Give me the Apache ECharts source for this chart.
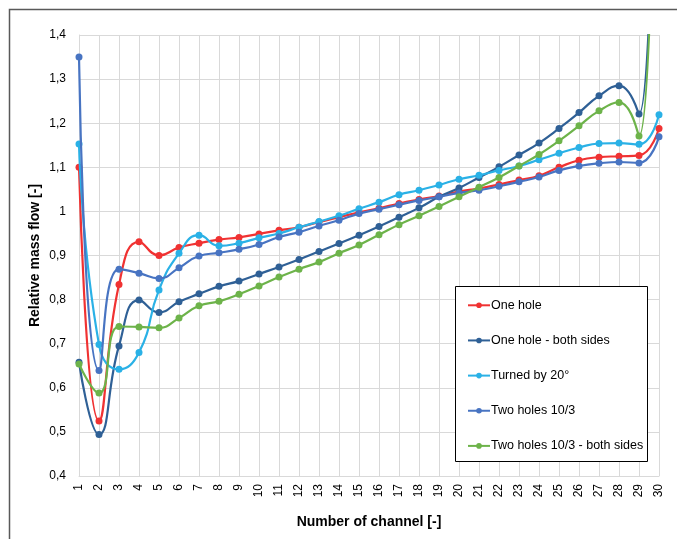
<!DOCTYPE html>
<html>
<head>
<meta charset="utf-8">
<script src="https://cdn.jsdelivr.net/npm/echarts@6/dist/echarts.min.js"></script>
<style>
html,body{margin:0;padding:0;background:#fff;}
#chart{width:677px;height:539px;}
</style>
</head>
<body>
<div id="chart"></div>
<script>
const channels = Array.from({length: 30}, (_, i) => String(i + 1));
const yTickLabels = ['0,4','0,5','0,6','0,7','0,8','0,9','1','1,1','1,2','1,3','1,4'];

const oneHole = [1.100,0.525,0.834,0.931,0.900,0.918,0.928,0.936,0.941,0.949,0.957,0.964,0.976,0.987,0.998,1.007,1.018,1.027,1.035,1.045,1.052,1.061,1.071,1.081,1.100,1.116,1.123,1.125,1.127,1.188];
const oneHoleBothSides = [0.658,0.494,0.695,0.799,0.771,0.795,0.813,0.830,0.842,0.858,0.874,0.891,0.909,0.927,0.946,0.966,0.987,1.008,1.033,1.053,1.077,1.101,1.128,1.155,1.188,1.224,1.262,1.285,1.221,3.0];
const turnedBy20 = [1.153,0.698,0.642,0.680,0.822,0.905,0.946,0.922,0.928,0.940,0.950,0.964,0.977,0.990,1.006,1.021,1.038,1.048,1.060,1.073,1.082,1.093,1.103,1.117,1.132,1.145,1.154,1.155,1.152,1.219];
const twoHoles = [1.350,0.639,0.869,0.860,0.848,0.872,0.899,0.906,0.914,0.925,0.942,0.953,0.967,0.980,0.995,1.005,1.015,1.025,1.033,1.042,1.048,1.057,1.067,1.078,1.093,1.103,1.109,1.112,1.110,1.169];
const twoHolesBothSides = [0.654,0.588,0.739,0.738,0.736,0.758,0.786,0.796,0.812,0.831,0.851,0.869,0.885,0.905,0.924,0.947,0.970,0.990,1.011,1.033,1.055,1.077,1.103,1.129,1.160,1.194,1.228,1.247,1.171,3.0];

const seriesNames = ['One hole','One hole - both sides','Turned by 20°','Two holes 10/3','Two holes 10/3 - both sides'];
const seriesData = [oneHole, oneHoleBothSides, turnedBy20, twoHoles, twoHolesBothSides];
const seriesColors = ['#F03232','#2F6096','#2AB1E6','#4874C2','#6DB34A'];

const FONT = "'Liberation Sans',Arial,sans-serif";

const chart = echarts.init(document.getElementById('chart'), null, {renderer: 'canvas'});
const option = {
  backgroundColor: '#ffffff',
  animation: false,
  textStyle: {fontFamily: FONT},
  grid: {left: 79, right: 18, top: 35, bottom: 63, containLabel: false},
  graphic: [
    {type: 'rect', shape: {x: 9.5, y: 9.5, width: 700, height: 600}, style: {fill: null, stroke: '#595959', lineWidth: 1.5}, silent: true, z: 0},
    {type: 'rect', shape: {x: 455.5, y: 286.5, width: 192, height: 175}, style: {fill: '#ffffff', stroke: '#000000', lineWidth: 1}, silent: true, z: 20}
  ],
  legend: {
    orient: 'vertical',
    left: 467,
    top: 297.3,
    padding: 0,
    itemWidth: 22,
    itemHeight: 7,
    itemGap: 19.15,
    z: 30,
    textStyle: {fontFamily: FONT, fontSize: 12.5, color: '#000', lineHeight: 16, padding: [0, 0, 0, -4]},
    data: seriesNames
  },
  xAxis: {
    type: 'category',
    data: channels,
    boundaryGap: false,
    name: 'Number of channel [-]',
    nameLocation: 'middle',
    nameGap: 39,
    nameMoveOverlap: false,
    nameTextStyle: {fontFamily: FONT, fontSize: 14, fontWeight: 'bold', color: '#000'},
    axisLine: {show: true, lineStyle: {color: '#D9D9D9', width: 1}},
    axisTick: {show: false},
    axisLabel: {rotate: 90, interval: 0, margin: 8, fontFamily: FONT, fontSize: 12, color: '#000'},
    splitLine: {show: true, interval: 0, lineStyle: {color: '#D9D9D9', width: 1}}
  },
  yAxis: {
    type: 'value',
    min: 0.4,
    max: 1.4,
    interval: 0.1,
    name: 'Relative mass flow [-]',
    nameLocation: 'middle',
    nameGap: 37,
    nameMoveOverlap: false,
    nameTextStyle: {fontFamily: FONT, fontSize: 14, fontWeight: 'bold', color: '#000'},
    axisLine: {show: true, lineStyle: {color: '#D9D9D9', width: 1}},
    axisTick: {show: false},
    axisLabel: {
      margin: 13, fontFamily: FONT, fontSize: 12, color: '#000',
      formatter: v => yTickLabels[Math.round((v - 0.4) / 0.1)]
    },
    splitLine: {show: true, lineStyle: {color: '#D9D9D9', width: 1}}
  },
  series: seriesNames.map((name, i) => ({
    name: name,
    type: 'line',
    data: seriesData[i],
    smooth: 0.5,
    clip: true,
    symbol: 'circle',
    symbolSize: 7,
    color: seriesColors[i],
    lineStyle: {width: 2.2, color: seriesColors[i]},
    itemStyle: {color: seriesColors[i]},
    z: 2 + i
  }))
};
chart.setOption(option);
</script>
</body>
</html>
